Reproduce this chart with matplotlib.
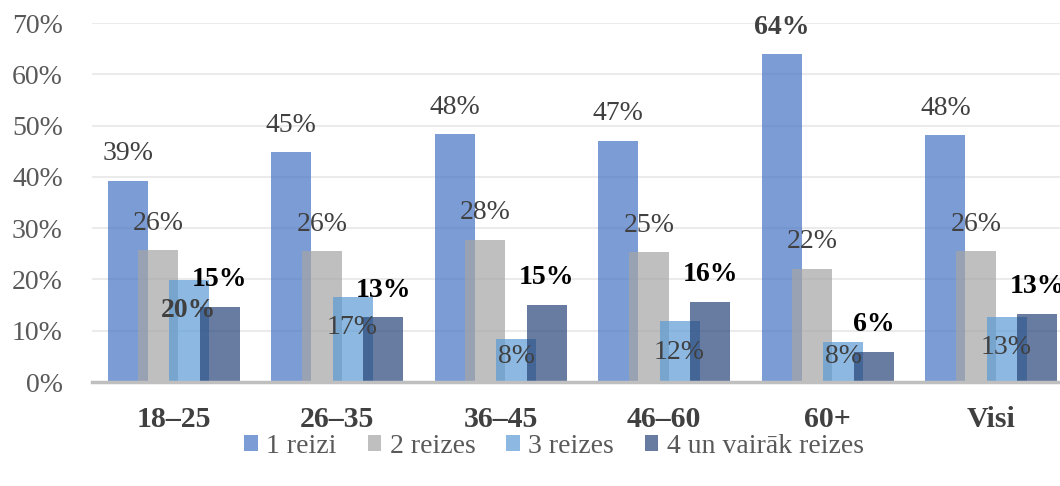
import matplotlib.pyplot as plt
import numpy as np
from matplotlib.patches import Patch

# 数据
categories = ['18–25', '26–35', '36–45', '46–60', '60+', 'Visi']
series_names = ['1 reizi', '2 reizes', '3 reizes', '4 un vairāk reizes']
s1 = [39.2, 44.8, 48.3, 47.0, 63.9, 48.1]
s2 = [25.7, 25.5, 27.7, 25.3, 22.0, 25.5]
s3 = [19.9, 16.6, 8.4, 11.8, 7.8, 12.7]
s4 = [14.7, 12.6, 15.1, 15.6, 5.9, 13.3]
yticks = [0, 10, 20, 30, 40, 50, 60, 70]

series = [s1, s2, s3, s4]
colors = ['#4472C4', '#A5A5A5', '#5B9BD5', '#264478']

plt.rcParams['font.family'] = ['Liberation Serif', 'DejaVu Serif']

fig = plt.figure(figsize=(10.6, 4.86), dpi=100)
# 坐标区比画布宽一点，右边被裁掉
ax = fig.add_axes([92 / 1060, 1 - 382 / 486, 981 / 1060, 359 / 486])

x = np.arange(len(categories))
width = 0.245
step = 0.187

for k, vals in enumerate(series):
    pos = x + (k - 1.5) * step
    ax.bar(pos, vals, width=width, color=colors[k], alpha=0.7, zorder=2)
    for p, v, i in zip(pos, vals, range(len(vals))):
        txt = '%d%%' % int(v + 0.5)
        if k == 2:
            # 第三个系列的标签放在柱子里面
            ty = max(v - 6.0, 5.0)
        else:
            ty = v + 5.3
        weight = 'normal'
        col = '#404040'
        if k == 3:
            weight = 'bold'
            col = 'black'
        elif (k == 0 and i == 4) or (k == 2 and i == 0):
            weight = 'bold'
        ax.text(p, ty, txt, ha='center', va='center', fontsize=20,
                color=col, fontweight=weight, zorder=5, clip_on=False)

ax.set_xlim(-0.5, len(categories) - 0.5)
ax.set_ylim(0, 70)
ax.set_yticks(yticks)
ax.set_yticklabels(['%d%%' % t for t in yticks], fontsize=20, color='#595959')
ax.set_xticks(x)
ax.set_xticklabels(categories, fontsize=21.5, fontweight='bold', color='#404040')
ax.tick_params(axis='y', length=0, pad=21)
ax.tick_params(axis='x', length=0, pad=17)

ax.grid(axis='y', color='#EBEBEB', linewidth=1.5, zorder=0)
ax.set_axisbelow(True)
for s in ['left', 'right', 'top']:
    ax.spines[s].set_visible(False)
ax.spines['bottom'].set_color('#BFBFBF')
ax.spines['bottom'].set_linewidth(2.5)
ax.spines['bottom'].set_zorder(3)

# 图例
handles = [Patch(facecolor=c, alpha=0.7, edgecolor='none') for c in colors]
fig.legend(handles, series_names, loc='center', bbox_to_anchor=(554 / 1060, 1 - 446 / 486),
           ncol=4, frameon=False, fontsize=20, labelcolor='#595959',
           handlelength=0.5, handleheight=0.5, handletextpad=0.3, columnspacing=1.1)

fig.savefig('out.png', dpi=100)
